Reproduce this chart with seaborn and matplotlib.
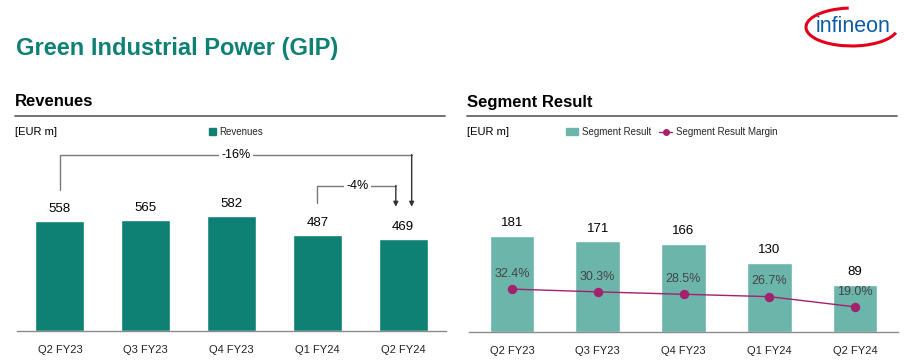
import matplotlib.pyplot as plt
import numpy as np
import pandas as pd
import seaborn as sns
from matplotlib.lines import Line2D
from matplotlib.patches import Arc, Patch

# Data
quarters = ["Q2 FY23", "Q3 FY23", "Q4 FY23", "Q1 FY24", "Q2 FY24"]
revenues = [558, 565, 582, 487, 469]
segment_result = [181, 171, 166, 130, 89]
segment_margin = [32.4, 30.3, 28.5, 26.7, 19.0]
changes = [("-16%", 0, 4), ("-4%", 3, 4)]

# Colours
TEAL = "#0e8174"
TEAL_LIGHT = "#6cb5ab"
MAGENTA = "#a3216d"
GREY = "#7a7a7a"

sns.set_theme(style="white")
plt.rcParams["font.family"] = ["Liberation Sans", "DejaVu Sans"]

df = pd.DataFrame({
    "quarter": quarters,
    "revenues": revenues,
    "result": segment_result,
    "margin": segment_margin,
})
pos = np.arange(len(quarters))

fig = plt.figure(figsize=(9.08, 3.62), dpi=100)
W, H = 908, 362


def fx(px):
    return px / W


def fy(py):
    return 1 - py / H


# Header texts
fig.text(fx(16), fy(48), "Green Industrial Power (GIP)", fontsize=17, fontweight="bold",
         color=TEAL, va="center", ha="left")
fig.text(fx(15), fy(102), "Revenues", fontsize=12, fontweight="bold", color="black",
         va="center", ha="left")
fig.text(fx(467), fy(102), "Segment Result", fontsize=12, fontweight="bold", color="black",
         va="center", ha="left")
for x0, x1 in [(15, 445), (467, 897)]:
    fig.add_artist(Line2D([fx(x0), fx(x1)], [fy(116.5), fy(116.5)], color="#666666", lw=1.3))
fig.text(fx(15), fy(132), "[EUR m]", fontsize=8, color="black", va="center", ha="left")
fig.text(fx(467), fy(132), "[EUR m]", fontsize=8, color="black", va="center", ha="left")

# Logo
fig.text(fx(853), fy(26), "infineon", fontsize=15.5, color="#0b5ca8",
         va="center", ha="center")
fig.add_artist(Arc((fx(852), fy(27)), fx(92), 38 / H, angle=-6, theta1=100, theta2=348,
                   color="#e3001b", lw=2.2, transform=fig.transFigure))

# Left chart: revenues
ax1 = fig.add_axes([fx(17), 1 - 331 / H, fx(429), 191 / H])
sns.barplot(data=df, x="quarter", y="revenues", color=TEAL, saturation=1, width=0.57,
            ax=ax1)
ax1.set_ylim(0, 970)
ax1.set_xlim(-0.5, 4.5)
for i, v in enumerate(revenues):
    ax1.text(i, v + 30, f"{v}", ha="center", va="bottom", fontsize=9.5, color="black")

# Change brackets
for label, i0, i1 in changes:
    if i0 == 0:
        y_top, y_start, x_end = 893, revenues[i0] + 158, i1 + 0.1
        x_text = 2.05
    else:
        y_top, y_start, x_end = 736, revenues[i0] + 163, i1 - 0.085
        x_text = 3.47
    y_arrow = 631
    ax1.plot([i0, i0, x_end], [y_start, y_top, y_top], color=GREY, lw=1)
    ax1.annotate("", xy=(x_end, y_arrow), xytext=(x_end, y_top + 3),
                 arrowprops=dict(arrowstyle="-|>", color="#333333", lw=1, mutation_scale=7,
                                 shrinkA=0, shrinkB=0))
    ax1.text(x_text, y_top, label, ha="center", va="center", fontsize=9, color="black",
             bbox=dict(boxstyle="square,pad=0.2", fc="white", ec="none"))

# Right chart: segment result + margin
ax2 = fig.add_axes([fx(469), 1 - 332 / H, fx(429), 192 / H])
sns.barplot(data=df, x="quarter", y="result", color=TEAL_LIGHT, saturation=1, width=0.52,
            ax=ax2)
ax2.set_ylim(0, 361)
ax2.set_xlim(-0.5, 4.5)
for i, v in enumerate(segment_result):
    ax2.text(i, v + 12, f"{v}", ha="center", va="bottom", fontsize=9.5, color="black")

ax3 = ax2.twinx()
sns.lineplot(x=pos, y=segment_margin, color=MAGENTA, marker="o", markersize=6,
             markeredgecolor=MAGENTA, lw=1, ax=ax3, legend=False)
ax3.set_ylim(0, 145)
ax3.set_xlim(-0.5, 4.5)
for i, v in enumerate(segment_margin):
    ax3.text(i, v + 7, f"{v:.1f}%", ha="center", va="bottom", fontsize=9, color="#444444")

for ax in (ax1, ax2, ax3):
    ax.set_xlabel("")
    ax.set_ylabel("")
    ax.set_yticks([])
    for side in ("top", "left", "right"):
        ax.spines[side].set_visible(False)
    ax.spines["bottom"].set_color("#8a8a8a")
    ax.spines["bottom"].set_linewidth(1)
    ax.tick_params(axis="x", length=0, pad=10, labelsize=8, labelcolor="#222222")
    ax.patch.set_visible(False)
    if ax.get_legend() is not None:
        ax.get_legend().remove()
ax3.spines["bottom"].set_visible(False)

# Legends
fig.legend(handles=[Patch(color=TEAL)], labels=["Revenues"], loc="center left",
           bbox_to_anchor=(fx(200), fy(132)), frameon=False, fontsize=7,
           handlelength=0.7, handleheight=0.7, handletextpad=0.4)
fig.legend(handles=[Patch(color=TEAL_LIGHT),
                    Line2D([], [], color=MAGENTA, marker="o", markersize=4, lw=1)],
           labels=["Segment Result", "Segment Result Margin"], ncol=2, loc="center left",
           bbox_to_anchor=(fx(557), fy(132)), frameon=False, fontsize=7,
           handlelength=1.3, handleheight=0.7, handletextpad=0.4, columnspacing=0.8)

fig.savefig("out.png", dpi=100)
